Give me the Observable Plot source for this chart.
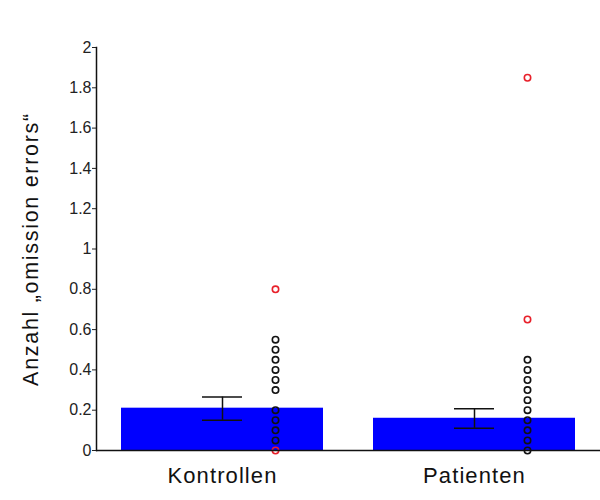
<!DOCTYPE html>
<html>
<head>
<meta charset="utf-8">
<script src="https://cdn.jsdelivr.net/npm/d3@7"></script>
<script src="https://cdn.jsdelivr.net/npm/@observablehq/plot@0.6"></script>
<style>
  body { margin: 0; background: #fff; }
  svg { font-family: Arial, "Liberation Sans", sans-serif; }
</style>
</head>
<body>
<div id="chart"></div>
<script>
const groups = ["Kontrollen", "Patienten"];
const means = [0.21, 0.16];
const errLow = [0.15, 0.11];
const errHigh = [0.265, 0.207];
const kontrollenNormal = [0.55, 0.5, 0.45, 0.4, 0.35, 0.3, 0.2, 0.15, 0.1, 0.05];
const kontrollenOutliers = [0.8, 0.0];
const patientenNormal = [0.45, 0.4, 0.35, 0.3, 0.25, 0.2, 0.15, 0.1, 0.05, 0.0];
const patientenOutliers = [1.85, 0.65];
const yTicks = [0, 0.2, 0.4, 0.6, 0.8, 1, 1.2, 1.4, 1.6, 1.8, 2];
const yLabel = "Anzahl \u201Eomission errors\u201C";

const bars = groups.map((g, i) => ({group: g, mean: means[i], lo: errLow[i], hi: errHigh[i]}));
const normalPts = [
  ...kontrollenNormal.map(v => ({group: groups[0], value: v})),
  ...patientenNormal.map(v => ({group: groups[1], value: v}))
];
const outlierPts = [
  ...kontrollenOutliers.map(v => ({group: groups[0], value: v})),
  ...patientenOutliers.map(v => ({group: groups[1], value: v}))
];

const capInset = 81;

const chart = Plot.plot({
  width: 600,
  height: 500,
  marginLeft: 96,
  marginRight: 0,
  marginTop: 47,
  marginBottom: 50,
  style: {fontFamily: "Arial, 'Liberation Sans', sans-serif", background: "#fff"},
  x: {domain: groups, paddingInner: 0.2, paddingOuter: 0.1, label: null},
  y: {domain: [0, 2], label: null},
  marks: [
    Plot.barY(bars, {x: "group", y: "mean", fill: "#0000ff"}),
    Plot.ruleX(bars, {x: "group", y1: "lo", y2: "hi", stroke: "#111", strokeWidth: 1.5}),
    Plot.tickY(bars, {x: "group", y: "lo", stroke: "#111", strokeWidth: 1.5, insetLeft: capInset, insetRight: capInset}),
    Plot.tickY(bars, {x: "group", y: "hi", stroke: "#111", strokeWidth: 1.5, insetLeft: capInset, insetRight: capInset}),
    Plot.dot(normalPts, {x: "group", y: "value", dx: 53, r: 3.2, stroke: "#111", strokeWidth: 1.6, fill: "none"}),
    Plot.dot(outlierPts, {x: "group", y: "value", dx: 53, r: 3.2, stroke: "#e8202a", strokeWidth: 1.6, fill: "none"}),
    Plot.ruleY([0], {stroke: "#111", strokeWidth: 1.5}),
    Plot.frame({anchor: "left", stroke: "#111", strokeWidth: 1.5}),
    Plot.axisY({ticks: yTicks, tickSize: 4, tickPadding: 1, fontSize: 16, tickFormat: d => String(+d.toFixed(1)), label: null, color: "#222"}),
    Plot.axisX({tickSize: 0, tickPadding: 17, fontSize: 22, label: null, color: "#111"}),
    Plot.text([yLabel], {frameAnchor: "left", dx: -65, rotate: -90, textAnchor: "middle", fontSize: 21.5, fill: "#111"})
  ]
});
d3.select(chart).selectAll('g[aria-label="x-axis tick label"] text').style("letter-spacing", "1.1px");
d3.select(chart).selectAll('g[aria-label="text"] text').style("letter-spacing", "1.7px");
document.getElementById("chart").appendChild(chart);
</script>
</body>
</html>
